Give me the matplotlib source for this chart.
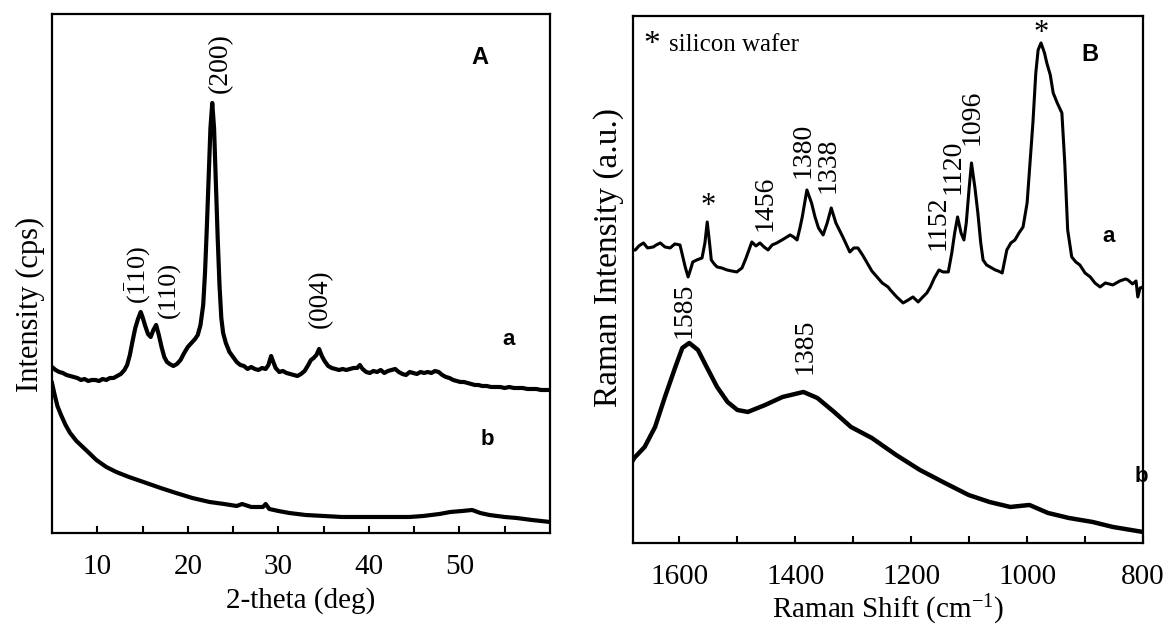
import matplotlib
matplotlib.use("Agg")
import matplotlib.pyplot as plt

plt.rcParams['font.family'] = ['Liberation Serif', 'DejaVu Serif']
plt.rcParams['mathtext.fontset'] = 'custom'
plt.rcParams['mathtext.rm'] = 'Liberation Serif'
plt.rcParams['mathtext.it'] = 'Liberation Serif:italic'

# XRD patterns (2-theta in deg, intensity in arbitrary cps)
xrd_theta_a = [5.0, 5.4, 5.8, 6.2, 6.6, 7.0, 7.4, 7.8, 8.2, 8.6, 9.0, 9.4, 9.8, 10.2, 10.6, 11.0, 11.4, 11.8,
               12.2, 12.6, 13.0, 13.3, 13.6, 13.9, 14.2, 14.5, 14.8, 15.0, 15.3, 15.6, 15.9, 16.2, 16.5, 16.8,
               17.1, 17.4, 17.7, 18.0, 18.4, 18.8, 19.2, 19.6, 20.0, 20.4, 20.8, 21.1, 21.4, 21.7, 21.9, 22.1,
               22.3, 22.5, 22.7, 22.9, 23.1, 23.3, 23.5, 23.7, 23.9, 24.2, 24.6, 25.0, 25.4, 25.8, 26.2, 26.6,
               27.0, 27.4, 27.8, 28.2, 28.6, 28.9, 29.2, 29.4, 29.7, 30.1, 30.5, 30.9, 31.3, 31.7, 32.1, 32.5,
               32.9, 33.3, 33.6, 33.9, 34.2, 34.5, 34.8, 35.1, 35.5, 35.9, 36.3, 36.7, 37.1, 37.5, 37.9, 38.3,
               38.7, 39.0, 39.3, 39.7, 40.1, 40.5, 40.9, 41.3, 41.7, 42.1, 42.5, 42.9, 43.3, 43.7, 44.1, 44.5,
               44.9, 45.3, 45.7, 46.1, 46.5, 46.9, 47.3, 47.7, 48.1, 48.5, 48.9, 49.3, 49.7, 50.1, 50.5, 50.9,
               51.3, 51.7, 52.1, 52.5, 53.0, 53.5, 54.0, 54.5, 55.0, 55.5, 56.0, 56.5, 57.0, 57.5, 58.0, 58.5,
               59.0, 59.5, 60.0]
xrd_int_a = [166, 163, 161, 160, 158, 157, 156, 155, 153, 154, 152, 153, 153, 152, 154, 153, 155, 155,
             157, 159, 163, 168, 178, 192, 205, 214, 221, 216, 207, 199, 196, 203, 208, 198,
             186, 176, 171, 169, 167, 169, 173, 180, 186, 190, 194, 198, 208, 228, 260, 305,
             355, 405, 430, 405, 350, 295, 248, 215, 200, 190, 181, 176, 171, 168, 167, 164,
             166, 164, 163, 165, 164, 168, 177, 172, 165, 161, 162, 160, 159, 158, 157, 159,
             162, 168, 173, 175, 178, 184, 177, 172, 167, 165, 164, 163, 164, 163, 164, 165,
             165, 168, 164, 161, 160, 162, 161, 163, 160, 162, 163, 164, 161, 159, 158, 161,
             160, 159, 161, 160, 161, 160, 162, 161, 158, 156, 155, 153, 152, 151, 151, 150,
             149, 148, 148, 147, 147, 146, 146, 146, 145, 146, 145, 145, 145, 144, 144, 144,
             143, 143, 143]

xrd_theta_b = [5.0, 5.3, 5.6, 6.0, 6.5, 7.0, 7.7, 8.4, 9.1, 9.9, 11.0, 12.1, 13.5, 15.1, 17.0, 18.7,
               20.5, 22.4, 24.0, 25.4, 26.0, 27.0, 28.3, 28.6, 29.0, 30.0, 31.2, 33.0, 35.0, 37.0,
               40.0, 42.0, 44.5, 46.0, 47.8, 49.0, 50.3, 51.4, 52.3, 53.3, 55.0, 56.3, 58.0, 60.0]
xrd_int_b = [150, 138, 127, 118, 108, 100, 92, 86, 80, 73, 66, 61, 56, 51, 45, 40,
             35, 31, 29, 27, 29, 26, 26, 29, 24, 22, 20, 18, 17, 16,
             16, 16, 16, 17, 19, 21, 22, 23, 20, 18, 16, 15, 13, 11]

# Raman spectra (shift in cm-1, intensity in a.u.)
raman_shift_a = [1680, 1676, 1670, 1662, 1655, 1645, 1640, 1633, 1625, 1616, 1608, 1599, 1594, 1590, 1585,
                 1580, 1577, 1570, 1561, 1556, 1552, 1548, 1545, 1540, 1535, 1527, 1518, 1510, 1501, 1492,
                 1485, 1475, 1468, 1461, 1454, 1447, 1440, 1432, 1420, 1409, 1403, 1397, 1392, 1388, 1380,
                 1372, 1366, 1360, 1352, 1345, 1338, 1330, 1318, 1306, 1299, 1292, 1284, 1277, 1268, 1259,
                 1250, 1240, 1236, 1225, 1214, 1205, 1197, 1188, 1180, 1173, 1167, 1160, 1152, 1145, 1136,
                 1130, 1125, 1120, 1114, 1109, 1105, 1100, 1096, 1090, 1085, 1080, 1076, 1070, 1064, 1055,
                 1050, 1043, 1035, 1028, 1021, 1014, 1007, 1000, 995, 990, 985, 981, 976, 970, 966,
                 960, 955, 948, 940, 935, 930, 923, 916, 909, 900, 891, 883, 874, 865, 852,
                 840, 830, 826, 818, 812, 809, 805, 800]
raman_int_a = [293, 293, 297, 300, 295, 296, 298, 300, 296, 295, 299, 298, 286, 276, 266,
               275, 281, 283, 285, 300, 321, 300, 283, 279, 276, 275, 273, 272, 271, 275,
               285, 301, 297, 300, 296, 293, 298, 300, 304, 308, 306, 303, 315, 326, 353,
               340, 326, 315, 308, 320, 335, 320, 306, 291, 295, 295, 288, 281, 272, 266,
               260, 256, 253, 246, 240, 243, 246, 241, 246, 250, 256, 265, 273, 271, 271,
               290, 310, 326, 310, 303, 320, 355, 380, 355, 330, 300, 283, 278, 276, 273,
               272, 270, 293, 300, 303, 310, 316, 340, 380, 420, 470, 493, 500, 490, 480,
               468, 450, 440, 430, 380, 313, 286, 281, 278, 270, 266, 260, 256, 260, 258,
               262, 264, 263, 259, 262, 246, 255, 256]

raman_shift_b = [1680, 1678, 1660, 1642, 1625, 1607, 1595, 1583, 1568, 1553, 1535, 1517, 1500, 1482,
                 1452, 1422, 1386, 1362, 1333, 1304, 1268, 1226, 1185, 1142, 1101, 1065, 1029, 996,
                 964, 928, 887, 852, 800]
raman_int_b = [83, 85, 96, 116, 146, 176, 195, 200, 193, 176, 156, 141, 133, 131,
               138, 146, 151, 145, 131, 116, 105, 88, 73, 60, 48, 41, 36, 38,
               30, 25, 21, 16, 11]

fig = plt.figure(figsize=(11.68, 6.28), dpi=100)

# ---- A: XRD ----
ax1 = fig.add_axes([0.0445, 0.1513, 0.4264, 0.8264])
ax1.plot(xrd_theta_a, xrd_int_a, color='black', lw=3.0)
ax1.plot(xrd_theta_b, xrd_int_b, color='black', lw=3.0)
ax1.set_xlim(5, 60)
ax1.set_ylim(0, 519)
ax1.set_xticks([10, 20, 30, 40, 50])
ax1.set_xticks([15, 25, 35, 45, 55], minor=True)
ax1.set_yticks([])
ax1.tick_params(axis='x', which='both', direction='in', length=5, width=1.5, labelsize=21, pad=15)
ax1.set_xlabel('2-theta (deg)', fontsize=21, labelpad=5)
ax1.set_ylabel('Intensity (cps)', fontsize=22)
ax1.yaxis.set_label_coords(-0.015, 0.441)

ax1.text(23.55, 470, '(200)', rotation=90, ha='center', va='center', fontsize=20)
ax1.text(14.5, 258, r'$(\bar{1}10)$', rotation=90, ha='center', va='center', fontsize=19)
ax1.text(18.0, 243, '(110)', rotation=90, ha='center', va='center', fontsize=19)
ax1.text(34.6, 234, '(004)', rotation=90, ha='center', va='center', fontsize=19.5)
ax1.text(52.3, 476, 'A', family='Liberation Sans', weight='bold', fontsize=17, ha='center', va='center')
ax1.text(55.4, 193, 'a', family='Liberation Sans', weight='bold', fontsize=16, ha='center', va='center')
ax1.text(53.1, 93, 'b', family='Liberation Sans', weight='bold', fontsize=16, ha='center', va='center')

# ---- B: Raman ----
ax2 = fig.add_axes([0.5420, 0.1354, 0.4366, 0.8392])
ax2.plot(raman_shift_a, raman_int_a, color='black', lw=2.2)
ax2.plot(raman_shift_b, raman_int_b, color='black', lw=3.2)
ax2.set_xlim(1680, 800)
ax2.set_ylim(0, 527)
ax2.set_xticks([1600, 1400, 1200, 1000, 800])
ax2.set_xticks([1500, 1300, 1100, 900], minor=True)
ax2.set_yticks([])
ax2.tick_params(axis='x', which='both', direction='in', length=5, width=1.5, labelsize=21, pad=15)
ax2.set_xlabel(r'Raman Shift (cm$^{-1}$)', fontsize=21, labelpad=2)
ax2.set_ylabel('Raman Intensity (a.u.)', fontsize=24)
ax2.yaxis.set_label_coords(-0.018, 0.541)

ax2.text(1647, 498, '*', fontsize=24, ha='center', va='center')
ax2.text(1618, 498, 'silicon wafer', fontsize=18, ha='left', va='center')
ax2.text(1550.6, 336, '*', fontsize=22, ha='center', va='center')
ax2.text(976, 509, '*', fontsize=22, ha='center', va='center')
for lbl, wx, wy in [('1456', 1452, 340), ('1380', 1386, 393), ('1338', 1343, 378),
                    ('1585', 1592, 233), ('1385', 1383, 197), ('1152', 1154, 320),
                    ('1120', 1128, 376), ('1096', 1095, 426)]:
    ax2.text(wx, wy, lbl, rotation=90, ha='center', va='center', fontsize=20)
ax2.text(891, 488, 'B', family='Liberation Sans', weight='bold', fontsize=17, ha='center', va='center')
ax2.text(860, 306, 'a', family='Liberation Sans', weight='bold', fontsize=16, ha='center', va='center')
ax2.text(803, 66, 'b', family='Liberation Sans', weight='bold', fontsize=16, ha='center', va='center',
         clip_on=False)

for ax in (ax1, ax2):
    for s in ax.spines.values():
        s.set_linewidth(1.6)

fig.savefig('out.png', dpi=100)
